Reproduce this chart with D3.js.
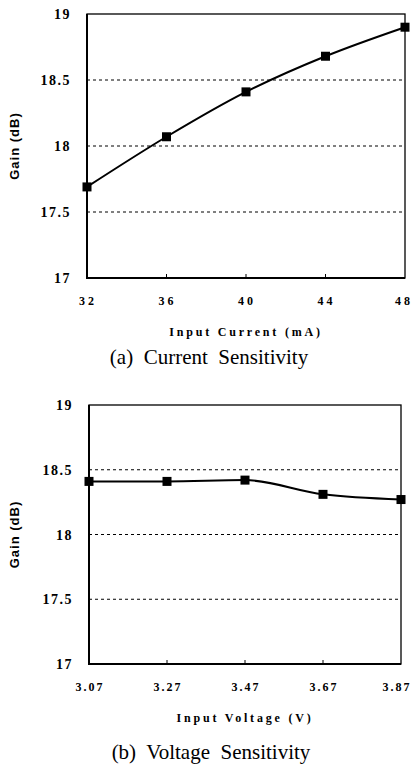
<!DOCTYPE html>
<html>
<head>
<meta charset="utf-8">
<script src="https://cdn.jsdelivr.net/npm/d3@7"></script>
<style>
  html, body { margin: 0; padding: 0; background: #fff; }
  svg { display: block; }
</style>
</head>
<body>
<svg id="chart" width="416" height="773"></svg>
<script>
// values
const currentX = [32, 36, 40, 44, 48];
const currentGain = [17.69, 18.07, 18.41, 18.68, 18.9];
const voltageX = [3.07, 3.27, 3.47, 3.67, 3.87];
const voltageGain = [18.41, 18.41, 18.42, 18.31, 18.27];
const gainTicks = [17, 17.5, 18, 18.5, 19];
const gridTicks = [17.5, 18, 18.5];
const currentLabels = ["32", "36", "40", "44", "48"];
const voltageLabels = ["3.07", "3.27", "3.47", "3.67", "3.87"];

const serif = "'Liberation Serif', 'Times New Roman', serif";
const sans = "'Liberation Sans', Arial, sans-serif";

const svg = d3.select("#chart");

function drawPanel(opts) {
    const x = d3.scaleLinear()
        .domain(d3.extent(opts.xs))
        .range([opts.left, opts.right]);
    const y = d3.scaleLinear()
        .domain([17, 19])
        .range([opts.bottom, opts.top]);

    const g = svg.append("g");

    // dashed gridlines
    g.selectAll(".grid")
        .data(gridTicks)
        .enter()
        .append("line")
        .attr("x1", opts.left)
        .attr("x2", opts.right)
        .attr("y1", d => y(d))
        .attr("y2", d => y(d))
        .attr("stroke", "#000")
        .attr("stroke-width", 1)
        .attr("stroke-dasharray", "3,3");

    // small ticks on the bottom axis
    g.selectAll(".xtick")
        .data(opts.xs.slice(1, -1))
        .enter()
        .append("line")
        .attr("x1", d => x(d))
        .attr("x2", d => x(d))
        .attr("y1", opts.bottom)
        .attr("y2", opts.bottom - 4)
        .attr("stroke", "#000")
        .attr("stroke-width", 1);

    // frame
    g.append("rect")
        .attr("x", opts.left)
        .attr("y", opts.top)
        .attr("width", opts.right - opts.left)
        .attr("height", opts.bottom - opts.top)
        .attr("fill", "none")
        .attr("stroke", "#000")
        .attr("stroke-width", 1.3);
    g.append("path")
        .attr("d", `M${opts.left},${opts.top}V${opts.bottom}H${opts.right}`)
        .attr("fill", "none")
        .attr("stroke", "#000")
        .attr("stroke-width", 2);

    // y tick labels
    g.selectAll(".ylab")
        .data(gainTicks)
        .enter()
        .append("text")
        .attr("x", opts.left - 16)
        .attr("y", d => y(d) + 5)
        .attr("text-anchor", "end")
        .attr("font-family", serif)
        .attr("font-weight", "bold")
        .attr("font-size", "14px")
        .attr("letter-spacing", "1.5px")
        .text(d => String(d));

    // x tick labels
    g.selectAll(".xlab")
        .data(opts.xs)
        .enter()
        .append("text")
        .attr("x", d => Math.min(x(d) + 1, opts.maxLabelX))
        .attr("y", opts.bottom + 27)
        .attr("text-anchor", "middle")
        .attr("font-family", serif)
        .attr("font-weight", "bold")
        .attr("font-size", "12px")
        .attr("letter-spacing", opts.labelSpacing)
        .text((d, i) => opts.labels[i]);

    // line and markers
    const line = d3.line()
        .x(d => x(d[0]))
        .y(d => y(d[1]))
        .curve(d3.curveMonotoneX);
    const pts = opts.xs.map((v, i) => [v, opts.ys[i]]);

    g.append("path")
        .datum(pts)
        .attr("d", line)
        .attr("fill", "none")
        .attr("stroke", "#000")
        .attr("stroke-width", 2);

    g.selectAll(".mark")
        .data(pts)
        .enter()
        .append("rect")
        .attr("x", d => x(d[0]) - 4.5)
        .attr("y", d => y(d[1]) - 4.5)
        .attr("width", 9)
        .attr("height", 9)
        .attr("fill", "#000");

    // axis titles
    g.append("text")
        .attr("transform", `translate(19,${(opts.top + opts.bottom) / 2}) rotate(-90)`)
        .attr("text-anchor", "middle")
        .attr("font-family", sans)
        .attr("font-weight", "bold")
        .attr("font-size", "13px")
        .attr("letter-spacing", "1px")
        .text("Gain (dB)");

    g.append("text")
        .attr("x", (opts.left + opts.right) / 2)
        .attr("y", opts.bottom + 58)
        .attr("text-anchor", "middle")
        .attr("font-family", serif)
        .attr("font-weight", "bold")
        .attr("font-size", "12px")
        .attr("letter-spacing", "2.8px")
        .text(opts.xTitle);

    g.append("text")
        .attr("x", opts.captionX)
        .attr("y", opts.captionY)
        .attr("text-anchor", "middle")
        .attr("font-family", serif)
        .attr("font-size", "21px")
        .style("white-space", "pre")
        .text(opts.caption);
}

drawPanel({
    xs: currentX, ys: currentGain, labels: currentLabels,
    left: 87, right: 405, top: 14, bottom: 278,
    labelSpacing: "3px", maxLabelX: 404,
    xTitle: "Input Current (mA)",
    caption: "(a)  Current  Sensitivity",
    captionX: 209, captionY: 364
});

drawPanel({
    xs: voltageX, ys: voltageGain, labels: voltageLabels,
    left: 89, right: 401, top: 405, bottom: 664,
    labelSpacing: "2px", maxLabelX: 397,
    xTitle: "Input Voltage (V)",
    caption: "(b)  Voltage  Sensitivity",
    captionX: 211, captionY: 759
});
</script>
</body>
</html>
